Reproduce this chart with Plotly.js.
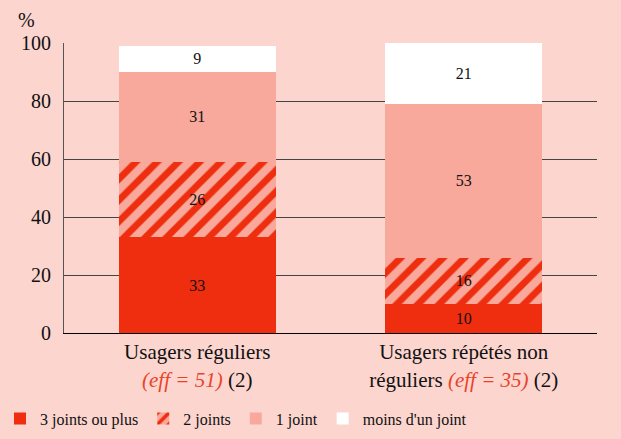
<!DOCTYPE html>
<html>
<head>
<meta charset="utf-8">
<script src="https://cdn.plot.ly/plotly-3.0.1.min.js"></script>
<style>
html,body{margin:0;padding:0;background:#fcd5cf;}
#chart text, #chart tspan { font-family: "Liberation Serif", "Times New Roman", serif !important; }
</style>
</head>
<body>
<div id="chart" style="width:621px;height:439px;"></div>
<script>
const categories = [
  "Usagers réguliers<br><span style=\"color:#e8432a\"><i>(eff = 51)</i></span> (2)",
  "Usagers répétés non<br>réguliers <span style=\"color:#e8432a\"><i>(eff = 35)</i></span> (2)"
];
const seriesNames = ["3 joints ou plus", "2 joints", "1 joint", "moins d'un joint"];
const threePlus = [33, 10];
const two = [26, 16];
const one = [31, 53];
const lessOne = [9, 21];
const yTicks = [0, 20, 40, 60, 80, 100];

const RED = "#ee2e0f", SALMON = "#f8a99b", WHITE = "#ffffff";
const SERIF = "Liberation Serif";

function mk(name, vals, color, pattern) {
  const m = {color: color, line: {width: 0}};
  if (pattern) m.pattern = pattern;
  return {
    type: "bar", name: name, x: categories, y: vals,
    marker: m,
    text: vals.map(String), textposition: "inside", insidetextanchor: "middle",
    textangle: 0, constraintext: "none",
    textfont: {family: SERIF, size: 16, color: "#111"},
    hoverinfo: "skip"
  };
}

const data = [
  mk(seriesNames[0], threePlus, RED),
  mk(seriesNames[1], two, SALMON, {shape: "/", bgcolor: SALMON, fgcolor: RED, fgopacity: 1, size: 15, solidity: 0.45, fillmode: "replace"}),
  mk(seriesNames[2], one, SALMON),
  mk(seriesNames[3], lessOne, WHITE)
];

const layout = {
  width: 621, height: 439,
  paper_bgcolor: "#fcd5cf", plot_bgcolor: "#fcd5cf",
  margin: {l: 64, r: 24, t: 43, b: 106},
  barmode: "stack", bargap: 0.41,
  font: {family: SERIF, size: 16, color: "#111"},
  showlegend: true,
  legend: {orientation: "h", xref: "container", yref: "container", x: 0, xanchor: "left",
    y: 0.085, yanchor: "top",
    traceorder: "normal", font: {family: SERIF, size: 16, color: "#111"},
    bgcolor: "rgba(0,0,0,0)"},
  xaxis: {showline: true, linecolor: "#000", linewidth: 1, ticks: "",
    tickfont: {family: SERIF, size: 21, color: "#111"}, fixedrange: true},
  yaxis: {range: [0, 100], tickvals: yTicks, ticktext: yTicks.map(String),
    showgrid: true, gridcolor: "#444", gridwidth: 1, zeroline: false,
    showline: true, linecolor: "#555", linewidth: 1, ticks: "",
    tickfont: {family: SERIF, size: 20, color: "#111"}, ticklabelstandoff: 8},
  annotations: [{text: "%", xref: "paper", yref: "paper", x: -0.071, y: 1.079,
    xanchor: "center", yanchor: "middle", showarrow: false,
    font: {family: SERIF, size: 20, color: "#111"}}]
};

Plotly.newPlot("chart", data, layout, {displayModeBar: false});
</script>
</body>
</html>
